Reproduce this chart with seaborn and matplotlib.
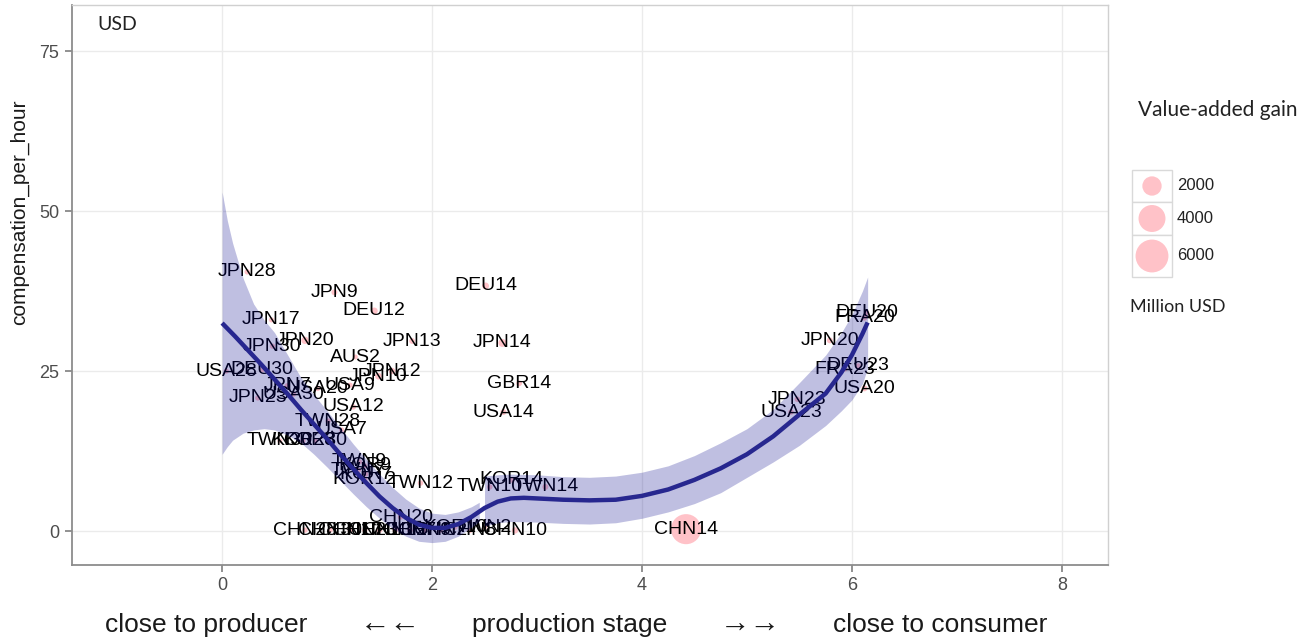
import numpy as np
import pandas as pd
import matplotlib
matplotlib.use("Agg")
import matplotlib.pyplot as plt
from matplotlib.patches import Rectangle
import seaborn as sns

# ---------------- data ----------------
labels = ["JPN28", "JPN9", "DEU12", "JPN17", "JPN20", "JPN30", "JPN13", "AUS2",
          "USA28", "DEU30", "JPN12", "JPN10", "JPN7", "USA20", "USA9", "JPN23",
          "USA30", "USA12", "TWN28", "USA7", "TWN30", "KOR28", "KOR30",
          "TWN9", "KOR9", "TWN7", "KOR7", "KOR12", "TWN12", "TWN10", "KOR14", "TWN14",
          "DEU14", "JPN14", "GBR14", "USA14",
          "CHN28", "CHN30", "CHN17", "CHN23", "CHN13", "CHN12", "CHN7", "CHN9", "CHN2",
          "CHN20", "KOR10", "CHN8", "TWN2", "CHN10",
          "DEU20", "FRA20", "JPN20", "DEU23", "FRA23", "USA20", "JPN23", "USA23", "CHN14"]
stage = [0.24, 1.07, 1.45, 0.47, 0.79, 0.48, 1.81, 1.27,
         0.04, 0.38, 1.62, 1.49, 0.62, 0.91, 1.22, 0.34,
         0.68, 1.25, 1.01, 1.14, 0.55, 0.77, 0.89,
         1.31, 1.36, 1.30, 1.37, 1.36, 1.89, 2.55, 2.76, 3.08,
         2.51, 2.67, 2.83, 2.68,
         0.79, 1.03, 1.22, 1.36, 1.50, 1.65, 1.79, 1.93, 2.08,
         1.70, 2.22, 2.36, 2.50, 2.79,
         6.14, 6.12, 5.79, 6.06, 5.93, 6.12, 5.48, 5.42, 4.42]
comp = [40.5, 37.3, 34.4, 33.0, 29.8, 28.9, 29.7, 27.2,
        25.0, 25.2, 25.0, 24.2, 22.7, 22.3, 22.8, 20.8,
        21.4, 19.4, 17.2, 15.8, 14.1, 14.1, 14.1,
        10.8, 10.2, 9.5, 8.9, 8.0, 7.5, 6.9, 8.0, 6.9,
        38.3, 29.4, 23.1, 18.6,
        0.15, 0.15, 0.15, 0.15, 0.15, 0.15, 0.15, 0.15, 0.15,
        2.2, 0.6, 0.1, 0.6, 0.1,
        34.1, 33.3, 29.8, 25.8, 25.3, 22.3, 20.6, 18.6, 0.3]
gain = [60, 90, 150, 40, 200, 50, 80, 30,
        40, 60, 120, 150, 50, 60, 40, 50,
        40, 60, 40, 40, 30, 40, 30,
        40, 40, 30, 30, 40, 60, 60, 80, 90,
        160, 250, 80, 90,
        50, 40, 60, 60, 80, 90, 60, 70, 50,
        60, 40, 50, 40, 120,
        60, 60, 90, 60, 50, 90, 60, 60, 5000]

# smooth fit
smooth_x = [0.0, 0.125, 0.25, 0.375, 0.5, 0.625, 0.75, 0.875, 1.0, 1.125, 1.25,
            1.375, 1.5, 1.625, 1.75, 1.875, 2.0, 2.125, 2.25, 2.375, 2.5, 2.625,
            2.75, 2.875, 3.0, 3.25, 3.5, 3.75, 4.0, 4.25, 4.5, 4.75, 5.0, 5.25,
            5.5, 5.75, 5.9, 6.0, 6.1, 6.15]
smooth_y = [32.5, 30.4, 28.2, 26.0, 23.7, 21.4, 19.0, 16.7, 14.4, 12.0, 9.7,
            7.5, 5.4, 3.6, 2.1, 1.0, 0.5, 0.5, 1.1, 2.2, 3.6, 4.6,
            5.1, 5.2, 5.1, 4.9, 4.8, 4.9, 5.5, 6.5, 8.0, 9.8, 12.0, 14.8,
            18.2, 21.5, 24.8, 27.5, 30.8, 32.6]
band1_x = [0.0, 0.05, 0.1, 0.2, 0.3, 0.4, 0.5, 0.625, 0.75, 0.875, 1.0, 1.125,
           1.25, 1.375, 1.5, 1.625, 1.75, 1.875, 2.0, 2.125, 2.25, 2.375, 2.45]
band1_hi = [53.0, 48.5, 45.0, 39.5, 35.5, 33.0, 31.0, 27.5, 24.0, 21.3, 18.8, 16.2,
            13.6, 11.2, 8.9, 6.8, 5.0, 3.6, 2.8, 2.6, 3.0, 3.8, 4.5]
band1_lo = [12.0, 13.2, 14.2, 15.3, 15.8, 16.0, 15.8, 15.0, 13.8, 12.0, 10.0, 7.9,
            5.8, 3.8, 2.0, 0.4, -0.8, -1.6, -1.8, -1.6, -0.8, 0.6, 1.5]
band2_x = [2.5, 2.625, 2.75, 3.0, 3.25, 3.5, 3.75, 4.0, 4.25, 4.5, 4.75, 5.0,
           5.25, 5.5, 5.75, 5.9, 6.0, 6.1, 6.15]
band2_lo = [0.8, 1.3, 1.5, 1.4, 1.2, 1.1, 1.3, 2.0, 3.0, 4.3, 6.0, 8.4,
            10.8, 13.4, 16.5, 18.8, 20.5, 23.0, 25.5]
band2_hi = [8.6, 8.8, 8.9, 8.8, 8.5, 8.4, 8.6, 9.2, 10.2, 11.8, 13.8, 16.0,
            19.0, 23.2, 27.5, 31.0, 33.8, 37.5, 39.7]

x_ticks = [0, 2, 4, 6, 8]
y_ticks = [0, 25, 50, 75]
legend_breaks = [2000, 4000, 6000]

df = pd.DataFrame({"label": labels, "stage": stage, "comp": comp, "gain": gain})

# ---------------- style ----------------
sns.set_theme(style="whitegrid")
plt.rcParams['font.family'] = ['Liberation Sans', 'DejaVu Sans']

W, H = 1316, 643
fig = plt.figure(figsize=(W / 100, H / 100), dpi=100)
fig.patch.set_facecolor("white")
ax = fig.add_axes([72 / W, 1 - 565 / H, (1108 - 72) / W, (565 - 5) / H])
ax.set_facecolor("white")

SMIN, SMAX, NMAX = 10, 560, 6000
pink = "#ffc2c8"

sns.scatterplot(data=df, x="stage", y="comp", size="gain", sizes=(SMIN, SMAX),
                size_norm=(0, NMAX), color=pink, edgecolor="none", linewidth=0,
                legend=False, ax=ax, zorder=2)

for lab, xv, yv in zip(labels, stage, comp):
    ax.text(xv, yv, lab, ha="center", va="center", fontsize=14, color="black", zorder=3)

ax.fill_between(band1_x, band1_lo, band1_hi, color="#00008b", alpha=0.25, lw=0, zorder=4)
ax.fill_between(band2_x, band2_lo, band2_hi, color="#00008b", alpha=0.25, lw=0, zorder=4)
sns.lineplot(x=smooth_x, y=smooth_y, color="#27278f", lw=3.2, ax=ax, zorder=5,
             solid_capstyle="butt", solid_joinstyle="round")

ax.set_xlim(-1.43, 8.44)
ax.set_ylim(-5.3, 82.2)
ax.set_xticks(x_ticks)
ax.set_yticks(y_ticks)
ax.set_xticklabels([str(v) for v in x_ticks])
ax.set_yticklabels([str(v) for v in y_ticks])
ax.grid(True, color="#ebebeb", lw=1.0)
ax.set_axisbelow(True)
ax.tick_params(axis="both", direction="out", length=5, width=1.2, color="#7f7f7f",
               labelsize=13, labelcolor="#4d4d4d", pad=4, left=True, bottom=True)
for side in ["left", "bottom"]:
    ax.spines[side].set_color("#8c8c8c")
    ax.spines[side].set_linewidth(1.3)
for side in ["top", "right"]:
    ax.spines[side].set_color("#d0d0d0")
    ax.spines[side].set_linewidth(1.0)
ax.set_xlabel("")
ax.set_ylabel("")

# y axis title
fig.text(20 / W, 1 - 212 / H, "compensation_per_hour", rotation=90, ha="center",
         va="center", fontsize=15, color="#1a1a1a")

# x axis title pieces
for txt, cx, fs in [("close to producer", 206, 19), ("\u2190\u2190", 390, 22),
                    ("production stage", 570, 19), ("\u2192\u2192", 750, 22),
                    ("close to consumer", 940, 19)]:
    fig.text(cx / W, 1 - 625 / H, txt, ha="center", va="center", fontsize=fs,
             color="#1a1a1a")

# USD tag
fig.text(97 / W, 1 - 25 / H, "USD", ha="left", va="center", fontsize=14,
         family=["Lato", "DejaVu Sans"], color="#222222")

# ---------------- legend (manual, figure pixel coordinates) ----------------
lax = fig.add_axes([0, 0, 1, 1], zorder=10)
lax.set_xlim(0, W)
lax.set_ylim(H, 0)
lax.axis("off")
lax.patch.set_alpha(0)
lax.text(1218, 110, "Value-added gain", ha="center", va="center", fontsize=15,
         family=["Lato", "DejaVu Sans"], color="#222222")
rows = [(170, 202), (202, 235), (235, 277)]
for (y0, y1), br in zip(rows, legend_breaks):
    lax.add_patch(Rectangle((1132, y0), 40, y1 - y0, facecolor="white",
                            edgecolor="#d9d9d9", lw=1.0))
    s = SMIN + (SMAX - SMIN) * br / NMAX
    lax.scatter([1152], [(y0 + y1) / 2], s=s, color=pink, edgecolor="none")
    lax.text(1177, (y0 + y1) / 2, str(br), ha="left", va="center", fontsize=12,
             color="#222222")
lax.text(1130, 307, "Million USD", ha="left", va="center", fontsize=13,
         family=["Lato", "DejaVu Sans"], color="#222222")

fig.savefig("out.png", dpi=100, facecolor="white")
